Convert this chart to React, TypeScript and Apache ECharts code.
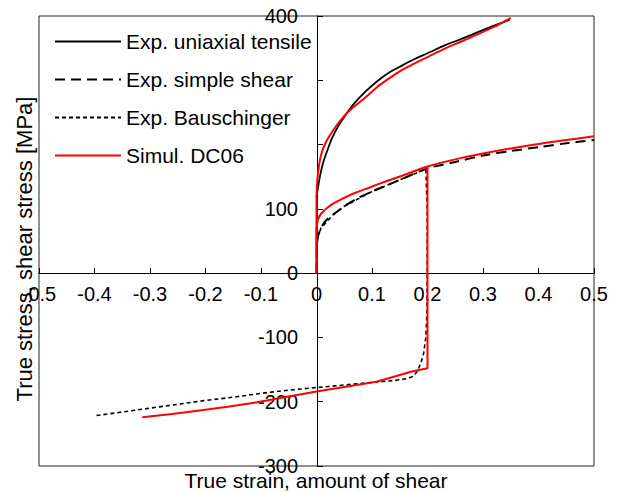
import React, { useEffect, useRef } from "react";
import * as echarts from "echarts";

const legendNames = ["Exp. uniaxial tensile", "Exp. simple shear", "Exp. Bauschinger", "Simul. DC06"];
const xAxisTitle = "True strain, amount of shear";
const yAxisTitle = "True stress, shear stress [MPa]";
const hiddenYLabels = [300, 200];

const tensileExp: number[][] = [
  [0, 118], [0.004, 140], [0.008, 158], [0.013, 175], [0.02, 192], [0.028, 210], [0.038, 227],
  [0.05, 243], [0.065, 261], [0.089, 283], [0.11, 299], [0.131, 312], [0.15, 321], [0.174, 332],
  [0.2, 342], [0.233, 355], [0.26, 364], [0.294, 376], [0.32, 385], [0.348, 394],
];
const shearExp: number[][] = [
  [0, 0], [0.001, 45], [0.003, 58], [0.008, 70], [0.015, 80], [0.03, 91], [0.05, 104], [0.075, 117],
  [0.1, 127], [0.125, 136], [0.15, 145], [0.2, 163], [0.25, 173], [0.3, 183], [0.35, 190],
  [0.4, 196], [0.45, 202], [0.5, 207],
];
const bauschExp: number[][] = [
  [0, 0], [0.001, 45], [0.003, 58], [0.008, 70], [0.03, 91], [0.05, 104], [0.1, 127], [0.15, 145],
  [0.197, 162], [0.1995, 100], [0.1995, 0], [0.199, -60], [0.197, -100], [0.193, -125],
  [0.188, -140], [0.182, -152], [0.175, -160], [0.165, -164], [0.14, -167], [0.1, -170],
  [0.05, -174], [0, -178], [-0.05, -182], [-0.1, -187], [-0.15, -193], [-0.2, -198],
  [-0.25, -204], [-0.3, -210], [-0.35, -216], [-0.4, -222],
];
const tensileSim: number[][] = [
  [0, 0], [0, 115], [0.001, 138], [0.003, 158], [0.006, 175], [0.01, 189], [0.016, 202],
  [0.023, 213], [0.03, 222], [0.04, 234], [0.057, 251], [0.075, 264], [0.089, 274], [0.11, 290],
  [0.131, 303], [0.15, 314], [0.174, 325], [0.2, 336], [0.233, 350], [0.26, 360], [0.294, 373],
  [0.32, 383], [0.35, 397],
];
const shearSim: number[][] = [
  [0, 0], [0, 65], [0.001, 76], [0.003, 84], [0.007, 91], [0.012, 96], [0.02, 102], [0.03, 108],
  [0.047, 116], [0.07, 125], [0.089, 131], [0.11, 138], [0.149, 150], [0.2, 166], [0.25, 177],
  [0.3, 186], [0.35, 194], [0.4, 201], [0.45, 207], [0.5, 213],
];
const bauschSim: number[][] = [
  [0.2, 166], [0.2, -148], [0.172, -153], [0.108, -169], [0.05, -177], [0, -184], [-0.05, -192],
  [-0.107, -201], [-0.16, -208], [-0.214, -214], [-0.26, -219], [-0.314, -224],
];

const FONT = "'Liberation Sans', Arial, sans-serif";

export default function App() {
  const ref = useRef<HTMLDivElement>(null);
  useEffect(() => {
    if (!ref.current) return;
    const chart = echarts.init(ref.current, null, { renderer: "svg" });
    const red = "#ff0000";
    const line = (name: string, data: number[][], color: string, width: number, type: any, smooth: number | boolean) => ({
      type: "line",
      name,
      data,
      symbol: "none",
      showSymbol: false,
      smooth,
      lineStyle: { color, width, type },
      itemStyle: { color },
      z: color === red ? 3 : 2,
    });
    chart.setOption({
      animation: false,
      backgroundColor: "#fff",
      textStyle: { fontFamily: FONT },
      grid: {
        left: 39, right: 26, top: 16, bottom: 26,
        show: true, borderColor: "#222", borderWidth: 1, backgroundColor: "transparent",
        containLabel: false, outerBoundsMode: "none",
      },
      legend: {
        data: legendNames,
        orient: "vertical",
        left: 54,
        top: 31,
        padding: 0,
        itemWidth: 66,
        itemHeight: 14,
        itemGap: 17,
        itemStyle: { color: "transparent", borderColor: "transparent", borderWidth: 0, opacity: 0 },
        textStyle: { fontSize: 21, color: "#000", fontFamily: FONT, lineHeight: 20 },
      },
      xAxis: {
        type: "value",
        min: -0.5,
        max: 0.5,
        interval: 0.1,
        offset: -193,
        axisLine: { onZero: false, lineStyle: { color: "#000", width: 1 } },
        axisTick: { inside: true, length: 5, lineStyle: { color: "#000" } },
        axisLabel: {
          fontSize: 20,
          color: "#000",
          fontFamily: FONT,
          margin: 11,
          formatter: (v: number) => String(Math.round(v * 10) / 10),
        },
        splitLine: { show: false },
      },
      yAxis: {
        type: "value",
        min: -300,
        max: 400,
        interval: 100,
        offset: -278,
        axisLine: { onZero: false, lineStyle: { color: "#000", width: 1 } },
        axisTick: { inside: true, length: 6, lineStyle: { color: "#000" } },
        axisLabel: {
          fontSize: 20,
          color: "#000",
          fontFamily: FONT,
          margin: 19,
          formatter: (v: number) => (hiddenYLabels.includes(v) ? "" : String(v)),
        },
        splitLine: { show: false },
      },
      graphic: [
        {
          type: "text",
          x: 316,
          y: 480,
          style: { text: xAxisTitle, fontSize: 21, fontFamily: FONT, fill: "#000", textAlign: "center", textVerticalAlign: "middle" },
        },
        {
          type: "text",
          x: 24,
          y: 249,
          rotation: Math.PI / 2,
          style: { text: yAxisTitle, fontSize: 22, fontFamily: FONT, fill: "#000", textAlign: "center", textVerticalAlign: "middle" },
        },
      ],
      series: [
        line(legendNames[0], tensileExp, "#000", 1.8, "solid", 0.3),
        line(legendNames[1], shearExp, "#000", 2, [10, 6], 0.3),
        line(legendNames[2], bauschExp, "#000", 1.6, [4, 3], false),
        line(legendNames[3], tensileSim, red, 2, "solid", 0.3),
        line(legendNames[3], shearSim, red, 2, "solid", 0.3),
        line(legendNames[3], bauschSim, red, 2, "solid", false),
      ],
    });
    return () => chart.dispose();
  }, []);
  return <div ref={ref} style={{ position: "fixed", left: 0, top: 0, width: 620, height: 492 }} />;
}
